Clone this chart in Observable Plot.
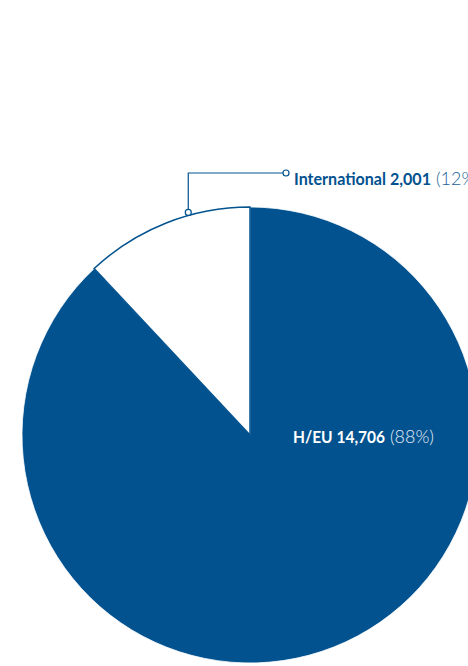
<!DOCTYPE html>
<html><head><meta charset="utf-8">
<script src="https://cdn.jsdelivr.net/npm/d3@7"></script>
<script src="https://cdn.jsdelivr.net/npm/@observablehq/plot@0.6"></script>
<style>
html,body{margin:0;padding:0;background:#fff;overflow:hidden;}
</style>
</head><body>
<div id="chart"></div>
<script>
const categories = ["H/EU", "International"];
const values = [14706, 2001];
const valueLabels = ["14,706", "2,001"];
const percentLabels = ["(88%)", "(12%)"];

const W = 468, H = 666;
const cx = 250, cy = 435, R = 228;
const blue = "#02528f";

const data = categories.map((c, i) => ({category: c, value: values[i], label: valueLabels[i], pct: percentLabels[i]}));

const pieMark = (index, scales, values_, dims) => {
  const x0 = scales.x(cx), y0 = scales.y(cy);
  const g = d3.create("svg:g").attr("transform", `translate(${x0},${y0})`);
  const arcs = d3.pie().sort(null).value(d => d.value)(data);
  const arc = d3.arc().innerRadius(0).outerRadius(R);
  g.selectAll("path").data(arcs).join("path")
    .attr("d", arc)
    .attr("fill", d => d.data.category === "H/EU" ? blue : "#fff")
    .attr("stroke", d => d.data.category === "H/EU" ? "#fff" : blue)
    .attr("stroke-width", d => d.data.category === "H/EU" ? 0.8 : 1.5);
  // inside label for H/EU
  const hd = data[0];
  const t1 = g.append("text")
    .attr("x", 43).attr("y", 8)
    .attr("text-anchor", "start")
    .attr("font-family", "Lato, sans-serif").attr("font-size", 17.5)
    .attr("fill", "#fff");
  t1.append("tspan").attr("font-weight", "bold").text(`${hd.category} ${hd.label}`)
    .attr("textLength", 92).attr("lengthAdjust", "spacingAndGlyphs");
  t1.append("tspan").attr("dx", 5).attr("font-weight", 300).attr("fill", "#e4ecf5").text(hd.pct)
    .attr("textLength", 44).attr("lengthAdjust", "spacingAndGlyphs");
  // leader for International
  const id = data[1];
  const ang = -15.5 * Math.PI / 180;
  const px = (R + 3) * Math.sin(ang), py = -(R + 3) * Math.cos(ang);
  const ly = 173 - cy, lx2 = 286 - cx;
  g.append("path")
    .attr("d", `M${px},${py - 3}V${ly}H${lx2 - 3}`)
    .attr("fill", "none").attr("stroke", blue).attr("stroke-width", 1.2);
  g.append("circle").attr("cx", px).attr("cy", py).attr("r", 3)
    .attr("fill", "#fff").attr("stroke", blue).attr("stroke-width", 1.2);
  g.append("circle").attr("cx", lx2).attr("cy", ly).attr("r", 3)
    .attr("fill", "#fff").attr("stroke", blue).attr("stroke-width", 1.2);
  const t2 = g.append("text")
    .attr("x", 294 - cx).attr("y", ly + 12)
    .attr("text-anchor", "start")
    .attr("font-family", "Lato, sans-serif").attr("font-size", 17.5)
    .attr("fill", blue);
  t2.append("tspan").attr("font-weight", "bold").text(`${id.category} ${id.label}`)
    .attr("textLength", 137).attr("lengthAdjust", "spacingAndGlyphs");
  t2.append("tspan").attr("dx", 5).attr("font-weight", 300).attr("fill", "#245f99").text(id.pct)
    .attr("textLength", 44).attr("lengthAdjust", "spacingAndGlyphs");
  return g.node();
};

const chart = Plot.plot({
  width: W, height: H, margin: 0,
  x: {domain: [0, W], range: [0, W], axis: null},
  y: {domain: [0, H], range: [0, H], axis: null},
  marks: [pieMark]
});
document.getElementById("chart").appendChild(chart);
</script>
</body></html>
